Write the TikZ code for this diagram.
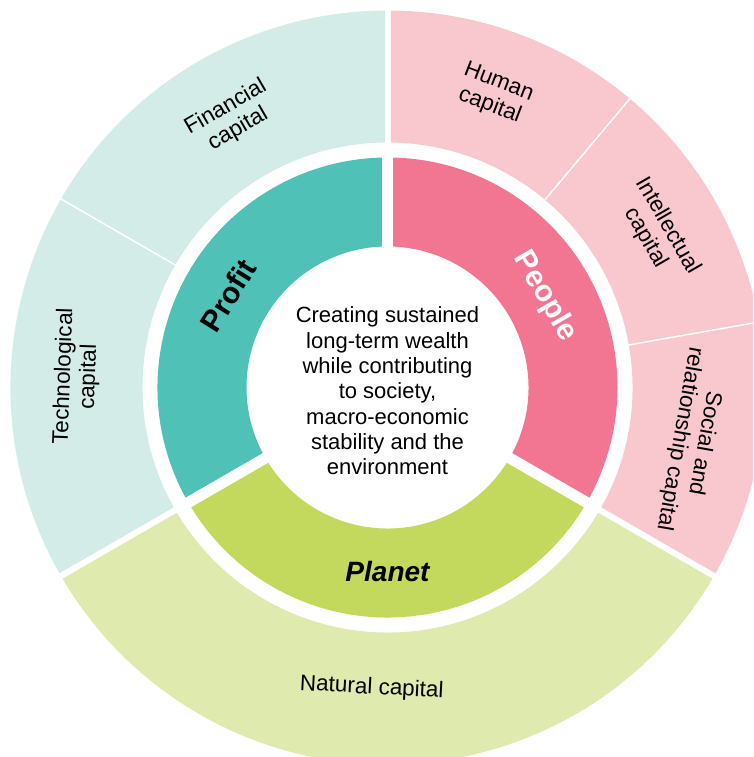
\documentclass[tikz,border=0pt]{standalone}
\usepackage{fontspec}
\setmainfont{Liberation Sans}
\definecolor{tealD}{HTML}{50C1B6}
\definecolor{tealL}{HTML}{D3ECE7}
\definecolor{pinkD}{HTML}{F27591}
\definecolor{pinkL}{HTML}{F9C8CE}
\definecolor{greenD}{HTML}{C2D95D}
\definecolor{greenL}{HTML}{DFEAAE}
\newcommand{\mysector}[5]{%
  \fill[#1] (#2:#4) arc[start angle=#2,end angle=#3,radius=#4] -- (#3:#5) arc[start angle=#3,end angle=#2,radius=#5] -- cycle;}
\tikzset{
  biglab/.style={inner sep=0pt, font=\fontsize{30}{30}\selectfont\bfseries},
  caplab/.style={inner sep=0pt, align=center, font=\fontsize{22.5}{25}\selectfont},
  bigsep/.style={white, line width=11pt},
  midsep/.style={white, line width=6pt},
  thinsep/.style={white, line width=1.5pt}
}
\begin{document}
\begin{tikzpicture}[x=1pt,y=1pt]
\useasboundingbox (-387.5,-369.5) rectangle (365.5,387.5);
\clip (-387.5,-369.5) rectangle (365.5,387.5);
% outer ring
\mysector{tealL}{90}{210}{245}{377}
\mysector{pinkL}{-30}{90}{245}{377}
\mysector{greenL}{210}{330}{245}{377}
% inner ring
\mysector{tealD}{90}{210}{141}{230}
\mysector{pinkD}{-30}{90}{141}{230}
\mysector{greenD}{210}{330}{141}{230}
% separators
\foreach \a in {90,210,330} \draw[bigsep] (0,0) -- (\a:238);
\foreach \a in {90,210,330} \draw[midsep] (\a:237) -- (\a:392);
\foreach \a in {150,10,50} \draw[thinsep] (\a:240) -- (\a:392);
% inner labels
\node[biglab, rotate=58] (profit) at (150:184) {Profit};
\node[biglab, text=white, rotate=-60] (people) at (30:182) {People};
\node[biglab, font=\fontsize{28}{28}\selectfont\bfseries\itshape] (planet) at (270:184) {Planet};
% outer labels
\node[caplab, rotate=30] (fin) at (120:311) {Financial\\capital};
\node[caplab, rotate=-21] (hum) at (70:312) {Human\\capital};
\node[caplab, rotate=-60] (int) at (30:311) {Intellectual\\capital};
\node[caplab, rotate=-100] (soc) at (-10:309) {Social and\\relationship capital};
\node[caplab, rotate=88] (tech) at (178:311) {Technological\\capital};
\node[caplab, rotate=-3] (nat) at (267:301) {Natural capital};
% centre
\node[inner sep=0pt, align=center, font=\fontsize{22}{25.3}\selectfont] (core) at (0,-3.5)
  {Creating sustained\\long-term wealth\\while contributing\\to society,\\macro-economic\\stability and the\\environment};
\end{tikzpicture}
\end{document}
